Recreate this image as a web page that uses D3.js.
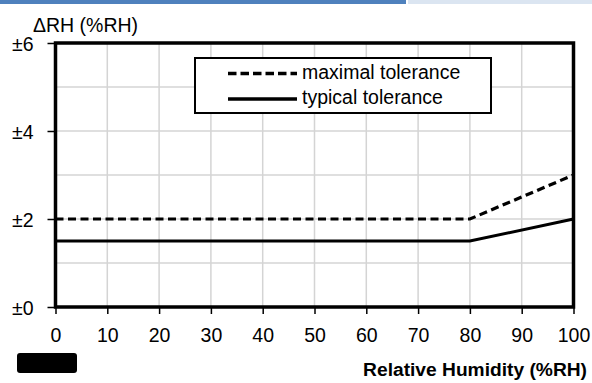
<!DOCTYPE html>
<html>
<head>
<meta charset="utf-8">
<script src="https://cdn.jsdelivr.net/npm/d3@7"></script>
<style>
  body { margin: 0; background: #fff; }
  text { font-family: "Liberation Sans", Arial, sans-serif; }
</style>
</head>
<body>
<div id="graph"></div>
<script>
"use strict";

let width = 592,
    height = 383;

const margin = { left: 55.5, right: 18.5, top: 43, bottom: 76 };

// data
const rhPoints = [0, 80, 100];
const maxTolerance = [2, 2, 3];
const typTolerance = [1.5, 1.5, 2];
const xTicks = [0, 10, 20, 30, 40, 50, 60, 70, 80, 90, 100];
const yTicks = [0, 2, 4, 6];
const yGrid = [0, 1, 2, 3, 4, 5, 6];
const seriesNames = ["maximal tolerance", "typical tolerance"];

let svg = d3.select("#graph")
    .append("svg")
    .attr("width", width)
    .attr("height", height);

// header bars across the top
svg.append("rect").attr("x", 0).attr("y", 0).attr("width", 406).attr("height", 4).attr("fill", "#4f81bd");
svg.append("rect").attr("x", 408).attr("y", 0).attr("width", 184).attr("height", 4).attr("fill", "#dbe5f1");

let x = d3.scaleLinear().domain([0, 100]).range([margin.left, width - margin.right]);
let y = d3.scaleLinear().domain([0, 6]).range([height - margin.bottom, margin.top]);

// grid
svg.append("g").selectAll("line")
    .data(xTicks)
    .enter().append("line")
    .attr("x1", d => x(d)).attr("x2", d => x(d))
    .attr("y1", y(6)).attr("y2", y(0))
    .attr("stroke", "#d4d4d4").attr("stroke-width", 1.5);

svg.append("g").selectAll("line")
    .data(yGrid)
    .enter().append("line")
    .attr("x1", x(0)).attr("x2", x(100))
    .attr("y1", d => y(d)).attr("y2", d => y(d))
    .attr("stroke", "#d4d4d4").attr("stroke-width", 1.5);

// axes
let xAxis = svg.append("g")
    .attr("transform", "translate(0," + y(0) + ")")
    .call(d3.axisBottom(x).tickValues(xTicks).tickSize(7).tickPadding(14));
xAxis.select(".domain").remove();
xAxis.selectAll("line").attr("stroke-width", 1.5);
xAxis.selectAll("text").style("font-size", "19.5px").attr("fill", "#000");

let yAxis = svg.append("g")
    .attr("transform", "translate(" + x(0) + ",0)")
    .call(d3.axisLeft(y).tickValues(yTicks).tickSize(8).tickPadding(14)
        .tickFormat(d => "\u00b1" + d));
yAxis.select(".domain").remove();
yAxis.selectAll("line").attr("stroke-width", 1.5);
yAxis.selectAll("text").style("font-size", "19.5px").attr("fill", "#000").attr("dy", "0.36em");

// lines
let line = d3.line()
    .x((d, i) => x(rhPoints[i]))
    .y(d => y(d));

svg.append("path")
    .datum(typTolerance)
    .attr("fill", "none")
    .attr("stroke", "#000")
    .attr("stroke-width", 3)
    .attr("d", line);

svg.append("path")
    .datum(maxTolerance)
    .attr("fill", "none")
    .attr("stroke", "#000")
    .attr("stroke-width", 3.2)
    .attr("stroke-dasharray", "8,4.5")
    .attr("d", line);

// frame
svg.append("rect")
    .attr("x", x(0)).attr("y", y(6))
    .attr("width", x(100) - x(0)).attr("height", y(0) - y(6))
    .attr("fill", "none").attr("stroke", "#000").attr("stroke-width", 3.5);

// legend
let legend = svg.append("g");
legend.append("rect")
    .attr("x", 195).attr("y", 58).attr("width", 296).attr("height", 55)
    .attr("fill", "#fff").attr("stroke", "#000").attr("stroke-width", 2);

legend.selectAll(".lg-line")
    .data(seriesNames)
    .enter().append("line")
    .attr("x1", 228).attr("x2", 297)
    .attr("y1", (d, i) => 73.5 + i * 25.5).attr("y2", (d, i) => 73.5 + i * 25.5)
    .attr("stroke", "#000")
    .attr("stroke-width", 3.5)
    .attr("stroke-dasharray", (d, i) => i == 0 ? "8.5,4" : null);

legend.selectAll(".lg-text")
    .data(seriesNames)
    .enter().append("text")
    .attr("x", 302)
    .attr("y", (d, i) => 79 + i * 25)
    .style("font-size", "19.5px")
    .text(d => d);

// axis titles
svg.append("text")
    .attr("x", 33).attr("y", 32)
    .style("font-size", "19.5px")
    .text("\u0394RH (%RH)");

svg.append("text")
    .attr("x", 587).attr("y", 376)
    .attr("text-anchor", "end")
    .style("font-size", "19.2px")
    .style("font-weight", "bold")
    .text("Relative Humidity (%RH)");

// redaction blob bottom-left
svg.append("rect")
    .attr("x", 17).attr("y", 353).attr("width", 60).attr("height", 20)
    .attr("rx", 3)
    .attr("fill", "#000");
</script>
</body>
</html>
